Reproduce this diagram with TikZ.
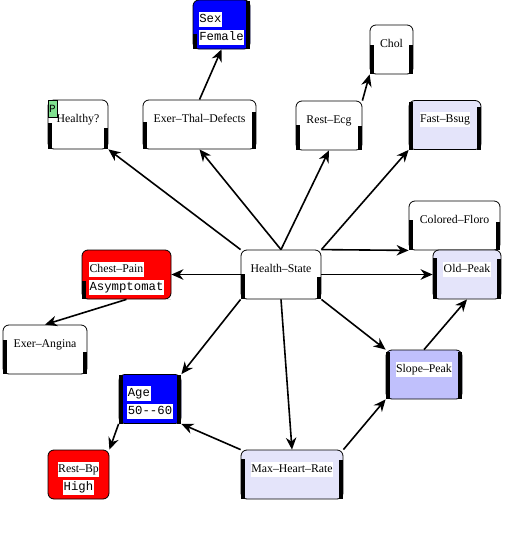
\documentclass[tikz,border=0pt]{standalone}
\usepackage{fontspec}
\setmainfont{Liberation Serif}
\setmonofont{Liberation Mono}
\usepackage{tikz}
\usetikzlibrary{arrows.meta}
\definecolor{netred}{RGB}{255,0,0}
\definecolor{netblue}{RGB}{0,0,255}
\definecolor{netlav}{RGB}{228,228,250}
\definecolor{netslope}{RGB}{192,192,252}
\definecolor{netgreen}{RGB}{128,224,144}
\newcommand{\mono}{\ttfamily\fontsize{12.3}{14}\selectfont}
\newcommand{\wb}[1]{{\setlength{\fboxsep}{0.5pt}\colorbox{white}{\strut #1}}}
\newcommand{\twolines}[3][l]{\begin{tabular}[t]{@{}#1@{}}\wb{#2}\\[3.5pt]\wb{#3}\end{tabular}}
\newcommand{\bars}[3]{\fill (#1.south west) rectangle ++(4,-#2); \fill (#1.south east) rectangle ++(-4,-#3);}
\tikzset{
    %Define standard arrow tip
    >={Stealth[length=12pt,width=10.5pt]},
    %Define style for boxes
    netbox/.style={
           rectangle,
           rounded corners=6pt,
           draw=black, line width=0.8pt,
           inner sep=0pt,
           minimum height=49pt,
           text height=22pt,
           text depth=27pt,
           font=\fontsize{11.8}{14}\selectfont,
           fill=white},
    redbox/.style={netbox, fill=netred},
    bluebox/.style={netbox, fill=netblue},
    lavbox/.style={netbox, fill=netlav},
    slopebox/.style={netbox, fill=netslope},
    tag/.style={
           rectangle,
           draw=black, line width=0.8pt,
           fill=netgreen,
           inner sep=0pt,
           minimum width=9pt,
           minimum height=17pt,
           font=\ttfamily\fontsize{11}{12}\selectfont},
    % Define arrow style
    pil/.style={
           ->,
           line width=1.6pt,
           shorten <=0pt,
           shorten >=0pt}
}
\begin{document}
\begin{tikzpicture}[x=1pt,y=-1pt]
\useasboundingbox (0,0) rectangle (506,538);
\node[bluebox, minimum width=57pt](sex) at (221.5,24.5){\twolines{\mono Sex}{\mono Female}};
\node[netbox, minimum width=60pt](healthy) at (78,124.5){Healthy?};
\node[tag, anchor=north west](hp) at (healthy.north west){P};
\node[netbox, minimum width=113pt](etd) at (199.5,124.5){Exer–Thal–Defects};
\node[netbox, minimum width=43pt](chol) at (391.5,49.5){Chol};
\node[netbox, minimum width=66pt](recg) at (329,125.5){Rest–Ecg};
\node[lavbox, minimum width=72pt](fbsug) at (445,125){\wb{Fast–Bsug}};
\node[netbox, minimum width=91pt](cf) at (454.5,225.5){Colored–Floro};
\node[lavbox, minimum width=68pt](op) at (467,274.5){\wb{Old–Peak}};
\node[netbox, minimum width=80pt](hs) at (281,274.5){Health–State};
\node[redbox, minimum width=89pt](cp) at (126.5,274.5){\twolines{Chest–Pain}{\mono Asymptomat}};
\node[netbox, minimum width=84pt](ea) at (45,349.5){Exer–Angina};
\node[slopebox, minimum width=76pt](sp) at (424,374.5){\wb{Slope–Peak}};
\node[bluebox, minimum width=62pt](age) at (150,399){\twolines{\mono Age}{\mono 50--60}};
\node[redbox, minimum width=61pt](rbp) at (78.5,474.5){\twolines[c]{Rest–Bp}{\mono High}};
\node[lavbox, minimum width=102pt](mhr) at (292,474.5){\wb{Max–Heart–Rate}};
% state bars
\bars{sex}{15}{48}
\bars{healthy}{26}{21}
\bars{etd}{27}{37}
\bars{chol}{29}{29}
\bars{recg}{25}{24}
\bars{fbsug}{48}{43}
\bars{cf}{30}{28}
\bars{op}{41}{40}
\bars{hs}{25}{22}
\bars{cp}{18}{0}
\bars{ea}{34}{22}
\bars{sp}{47}{47}
\bars{age}{49}{49}
\bars{mhr}{40}{39}
\path[pil]
	(hs.north west) edge (healthy.south east)
	(hs.north) edge (etd.south) edge (recg.south)
	(hs.north east) edge (fbsug.south west) edge (cf.south west)
	(hs.east) edge (op.west)
	(hs.west) edge (cp.east)
	(hs.south west) edge (age.north east)
	(hs.south) edge (mhr.north)
	(hs.south east) edge (sp.north west)
	(etd.north) edge (sex.south)
	(recg.north east) edge (chol.south west)
	(cp.south) edge (ea.north)
	(age.south west) edge (rbp.north east)
	(mhr.north west) edge (age.south east)
	(mhr.north east) edge (sp.south west)
	(sp.north) edge (op.south);
\end{tikzpicture}
\end{document}
